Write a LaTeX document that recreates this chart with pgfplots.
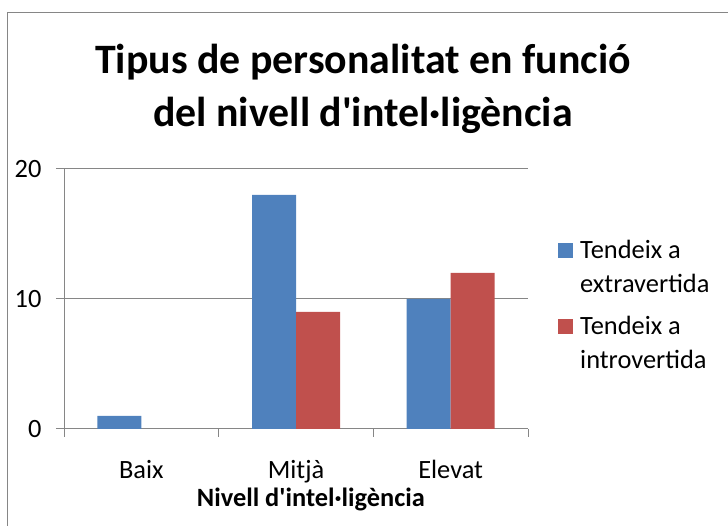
\documentclass[border=0pt]{standalone}
\usepackage{fontspec}
\setmainfont{Carlito}
\usepackage{pgfplots}
\pgfplotsset{compat=1.18}
\definecolor{exblue}{HTML}{4F81BD}
\definecolor{inred}{HTML}{C0504D}
\definecolor{axgray}{HTML}{868686}
% struts fix the line spacing of the legend rows
\newcommand{\lrow}{\rule[-9bp]{0pt}{34bp}}
\newcommand{\lrowgap}{\rule[-9bp]{0pt}{42bp}}

\begin{document}
\begin{tikzpicture}[x=1bp,y=1bp]
\path[use as bounding box] (0,0) rectangle (728,526);
\draw[axgray, line width=1bp] (7,0) -- (7,513) -- (728,513);
\node[font=\fontsize{42}{53}\selectfont\bfseries, align=center] at (363,437)
  {Tipus de personalitat en funció\\del nivell d\textquotesingle{}intel·ligència};

\begin{axis}[
  at={(64bp,97bp)}, anchor=south west,
  scale only axis, width=464bp, height=260bp,
  xmin=-0.5, xmax=2.5, ymin=0, ymax=20,
  ybar=0pt, bar width=44bp,
  xtick={0,1,2}, xticklabels={Baix,Mitjà,Elevat},
  minor xtick={-0.5,0.5,1.5,2.5},
  ytick={0,10,20},
  ymajorgrids, grid style={axgray, line width=1bp},
  axis x line*=bottom, axis y line*=left,
  axis line style={axgray, line width=1bp},
  tick align=outside,
  major tick length=8bp, minor tick length=8bp,
  tick style={axgray, line width=1bp},
  major x tick style={draw=none},
  /pgf/number format/assume math mode=true,
  tick label style={font=\fontsize{26.5}{32}\selectfont},
  xticklabel style={anchor=base, yshift=-42bp},
  yticklabel style={anchor=east, xshift=-11bp},
  xlabel={Nivell d\textquotesingle{}intel·ligència},
  xlabel style={font=\fontsize{26.5}{32}\selectfont\bfseries,
    at={(axis description cs:0.532,0)}, anchor=base, yshift=-78bp},
  legend style={draw=none, fill=none, inner sep=0pt,
    at={(1.0647,0.7538)}, anchor=north west,
    row sep=0pt, font=\fontsize{26.5}{33}\selectfont,
    nodes={inner sep=0pt, text depth=9bp}, cells={anchor=base west},
    /tikz/every odd column/.append style={column sep=7bp}},
  legend image code/.code={\fill (0bp,0bp) rectangle (15bp,15bp);},
]
\addplot[fill=exblue, draw=none] coordinates {(0,1) (1,18) (2,10)};
\addlegendentry{\lrow Tendeix a}
\addlegendimage{empty legend}
\addlegendentry{\lrow extravertida}
\addplot[fill=inred, draw=none] coordinates {(1,9) (2,12)};
\addlegendentry{\lrowgap Tendeix a}
\addlegendimage{empty legend}
\addlegendentry{\lrow introvertida}
\end{axis}
\end{tikzpicture}
\end{document}
